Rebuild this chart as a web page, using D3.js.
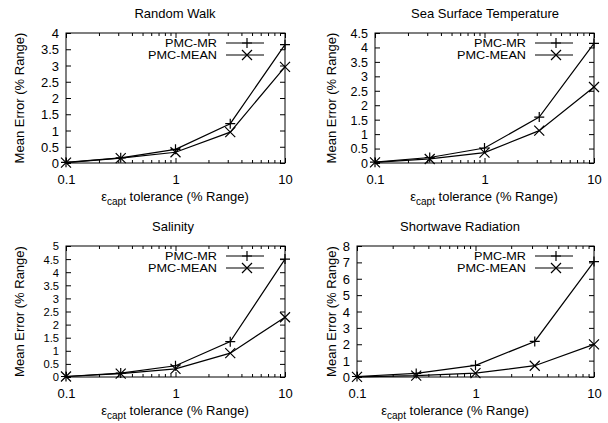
<!DOCTYPE html>
<html><head><meta charset="utf-8">
<script src="https://cdn.jsdelivr.net/npm/d3@7"></script>
<style>body{margin:0;background:#fff}svg{display:block}text{font-family:"Liberation Sans",Arial,Helvetica,sans-serif;fill:#000}</style>
</head><body><svg id="c" width="608" height="423"></svg>
<script>
const tolerances = [0.1, 0.316, 1, 3.162, 10];
const xTicks = [0.1, 1, 10];
const seriesNames = ["PMC-MR", "PMC-MEAN"];
const titles = ["Random Walk", "Sea Surface Temperature", "Salinity", "Shortwave Radiation"];
const rwMR = [0.02, 0.16, 0.42, 1.21, 3.64];
const rwMEAN = [0.01, 0.15, 0.33, 0.95, 2.96];
const sstMR = [0.03, 0.19, 0.52, 1.59, 4.14];
const sstMEAN = [0.02, 0.14, 0.36, 1.12, 2.63];
const salMR = [0.02, 0.15, 0.43, 1.35, 4.5];
const salMEAN = [0.02, 0.13, 0.31, 0.91, 2.28];
const swMR = [0.03, 0.22, 0.71, 2.17, 7.05];
const swMEAN = [0.01, 0.08, 0.24, 0.69, 1.99];
const yTicks1 = [0, 0.5, 1, 1.5, 2, 2.5, 3, 3.5, 4];
const yTicks2 = [0, 0.5, 1, 1.5, 2, 2.5, 3, 3.5, 4, 4.5];
const yTicks3 = [0, 0.5, 1, 1.5, 2, 2.5, 3, 3.5, 4, 4.5, 5];
const yTicks4 = [0, 1, 2, 3, 4, 5, 6, 7, 8];

const panels = [
  {title: titles[0], mr: rwMR, mean: rwMEAN, yt: yTicks1, box: [66, 285, 33, 163], tx: 175, lx: 175, ylx: 24, yfs: 13},
  {title: titles[1], mr: sstMR, mean: sstMEAN, yt: yTicks2, box: [375, 594, 33, 163], tx: 485, lx: 484, ylx: 336, yfs: 12.5},
  {title: titles[2], mr: salMR, mean: salMEAN, yt: yTicks3, box: [66, 285, 246, 377], tx: 173, lx: 175, ylx: 24, yfs: 11.2},
  {title: titles[3], mr: swMR, mean: swMEAN, yt: yTicks4, box: [357, 594, 246, 377], tx: 460, lx: 455, ylx: 336, yfs: 13}
];

const svg = d3.select("#c");
const FS = 13;
const FONT = '"Liberation Sans",Arial,sans-serif';

function marker(g, type, x, y) {
  const s = 5;
  const p = type === 0
    ? `M${x-s},${y}H${x+s}M${x},${y-s}V${y+s}`
    : `M${x-s},${y-s}L${x+s},${y+s}M${x-s},${y+s}L${x+s},${y-s}`;
  g.append("path").attr("d", p).attr("stroke", "#000").attr("stroke-width", 1.2).attr("fill", "none");
}

panels.forEach(pn => {
  const [x0, x1, y0, y1] = pn.box;
  const yMax = pn.yt[pn.yt.length - 1];
  const x = d3.scaleLog().domain([0.1, 10]).range([x0, x1]);
  const y = d3.scaleLinear().domain([0, yMax]).range([y1, y0]);
  const g = svg.append("g");

  const minors = [];
  [0.1, 1].forEach(d => { for (let k = 2; k <= 9; k++) minors.push(d * k); });
  const clean = a => { a.select(".domain").remove(); a.selectAll("line").attr("stroke", "#000"); };

  const bottom = g.append("g").attr("transform", `translate(0,${y1})`)
    .call(d3.axisBottom(x).tickValues(xTicks).tickSize(-5).tickPadding(0).tickFormat(d3.format("")));
  clean(bottom);
  bottom.selectAll("text").attr("y", 21).attr("dy", 0).attr("font-size", FS).style("font-family", FONT);
  g.append("g").attr("transform", `translate(0,${y1})`)
    .call(d3.axisBottom(x).tickValues(minors).tickSize(-3).tickFormat("")).call(clean);
  g.append("g").attr("transform", `translate(0,${y0})`)
    .call(d3.axisTop(x).tickValues(xTicks).tickSize(-5).tickFormat("")).call(clean);
  g.append("g").attr("transform", `translate(0,${y0})`)
    .call(d3.axisTop(x).tickValues(minors).tickSize(-3).tickFormat("")).call(clean);

  const left = g.append("g").attr("transform", `translate(${x0},0)`)
    .call(d3.axisLeft(y).tickValues(pn.yt).tickSize(-5).tickPadding(7).tickFormat(d3.format("")));
  clean(left);
  left.selectAll("text").attr("x", -7).attr("dy", "0.35em").attr("font-size", pn.yfs).style("font-family", FONT);
  g.append("g").attr("transform", `translate(${x1},0)`)
    .call(d3.axisRight(y).tickValues(pn.yt).tickSize(-5).tickFormat("")).call(clean);

  g.append("rect").attr("x", x0).attr("y", y0).attr("width", x1 - x0).attr("height", y1 - y0)
    .attr("fill", "none").attr("stroke", "#000").attr("stroke-width", 1);

  [pn.mr, pn.mean].forEach((vals, si) => {
    const line = d3.line().x((d, i) => x(tolerances[i])).y(d => y(d));
    g.append("path").datum(vals).attr("d", line).attr("fill", "none").attr("stroke", "#000").attr("stroke-width", 1.2);
    vals.forEach((v, i) => marker(g, si, x(tolerances[i]), y(v)));
    const ly = y0 + 10 + si * 12;
    g.append("text").attr("x", x1 - 68).attr("y", ly).attr("dy", "0.35em").attr("text-anchor", "end")
      .attr("font-size", 11.5).attr("textLength", si === 0 ? 52 : 69).attr("lengthAdjust", "spacingAndGlyphs")
      .text(seriesNames[si]);
    g.append("line").attr("x1", x1 - 59).attr("x2", x1 - 21).attr("y1", ly).attr("y2", ly)
      .attr("stroke", "#000").attr("stroke-width", 1.2);
    marker(g, si, x1 - 38, ly);
  });

  g.append("text").attr("x", pn.tx).attr("y", y0 - 15).attr("text-anchor", "middle").attr("font-size", FS).text(pn.title);
  const xl = g.append("text").attr("x", pn.lx).attr("y", y1 + 38).attr("text-anchor", "middle").attr("font-size", FS);
  xl.append("tspan").text("ε");
  xl.append("tspan").attr("font-size", 10).attr("dy", 4).text("capt");
  xl.append("tspan").attr("dy", -4).text(" tolerance (% Range)");
  g.append("text").attr("transform", `translate(${pn.ylx},${(y0 + y1) / 2}) rotate(-90)`)
    .attr("text-anchor", "middle").attr("font-size", FS).text("Mean Error (% Range)");
});
</script></body></html>
